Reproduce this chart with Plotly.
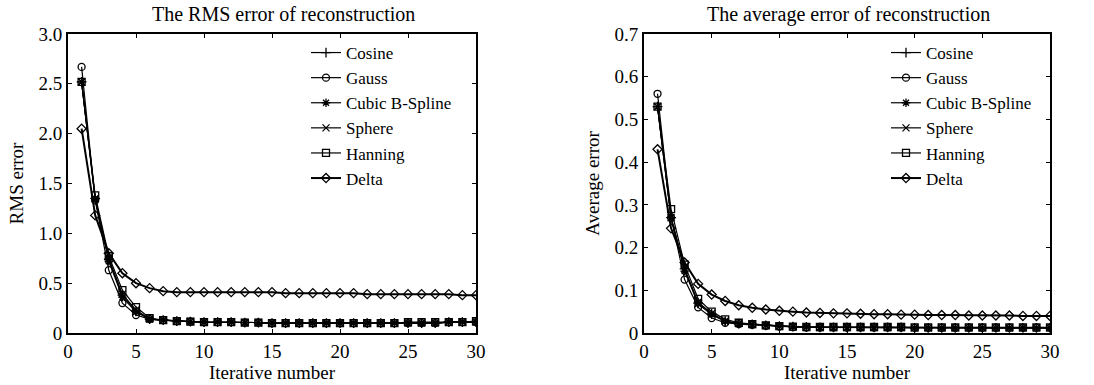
import plotly.graph_objects as go

iters = list(range(1, 31))
series_names = ["Cosine", "Gauss", "Cubic B-Spline", "Sphere", "Hanning", "Delta"]
symbols = ["cross-thin-open", "circle-open", "asterisk-open", "x-thin-open", "square-open", "diamond-open"]

rms_cosine = [2.52, 1.35, 0.74, 0.38, 0.22, 0.14, 0.13, 0.12, 0.115, 0.11, 0.11, 0.11, 0.105, 0.105, 0.1, 0.1, 0.1, 0.1, 0.1, 0.1, 0.1, 0.1, 0.1, 0.1, 0.1, 0.1, 0.1, 0.11, 0.11, 0.11]
rms_gauss = [2.67, 1.33, 0.63, 0.30, 0.18, 0.14, 0.13, 0.12, 0.115, 0.11, 0.11, 0.11, 0.105, 0.105, 0.1, 0.1, 0.1, 0.1, 0.1, 0.1, 0.1, 0.1, 0.1, 0.1, 0.1, 0.1, 0.1, 0.11, 0.11, 0.11]
rms_cubic = [2.52, 1.34, 0.72, 0.36, 0.21, 0.14, 0.13, 0.12, 0.115, 0.11, 0.11, 0.11, 0.105, 0.105, 0.1, 0.1, 0.1, 0.1, 0.1, 0.1, 0.1, 0.1, 0.1, 0.1, 0.1, 0.1, 0.1, 0.11, 0.11, 0.11]
rms_sphere = [2.52, 1.35, 0.74, 0.39, 0.23, 0.14, 0.13, 0.12, 0.115, 0.11, 0.11, 0.11, 0.105, 0.105, 0.1, 0.1, 0.1, 0.1, 0.1, 0.1, 0.1, 0.1, 0.1, 0.1, 0.1, 0.1, 0.1, 0.11, 0.11, 0.11]
rms_hanning = [2.52, 1.38, 0.77, 0.43, 0.26, 0.15, 0.13, 0.12, 0.115, 0.11, 0.11, 0.11, 0.105, 0.105, 0.1, 0.1, 0.1, 0.1, 0.1, 0.1, 0.1, 0.1, 0.1, 0.1, 0.11, 0.11, 0.11, 0.11, 0.11, 0.12]
rms_delta = [2.05, 1.18, 0.80, 0.60, 0.50, 0.45, 0.42, 0.41, 0.41, 0.41, 0.41, 0.41, 0.41, 0.41, 0.41, 0.40, 0.40, 0.40, 0.40, 0.40, 0.40, 0.39, 0.39, 0.39, 0.39, 0.39, 0.39, 0.39, 0.38, 0.38]

avg_cosine = [0.53, 0.27, 0.15, 0.07, 0.045, 0.028, 0.022, 0.02, 0.018, 0.016, 0.015, 0.014, 0.013, 0.013, 0.013, 0.013, 0.013, 0.013, 0.013, 0.012, 0.012, 0.012, 0.012, 0.012, 0.012, 0.012, 0.012, 0.012, 0.012, 0.012]
avg_gauss = [0.56, 0.27, 0.125, 0.06, 0.035, 0.024, 0.021, 0.019, 0.017, 0.015, 0.014, 0.013, 0.013, 0.013, 0.013, 0.013, 0.013, 0.013, 0.013, 0.012, 0.012, 0.012, 0.012, 0.012, 0.012, 0.012, 0.012, 0.012, 0.012, 0.012]
avg_cubic = [0.53, 0.27, 0.145, 0.068, 0.043, 0.027, 0.022, 0.02, 0.018, 0.016, 0.015, 0.014, 0.013, 0.013, 0.013, 0.013, 0.013, 0.013, 0.013, 0.012, 0.012, 0.012, 0.012, 0.012, 0.012, 0.012, 0.012, 0.012, 0.012, 0.012]
avg_sphere = [0.53, 0.27, 0.15, 0.072, 0.046, 0.028, 0.022, 0.02, 0.018, 0.016, 0.015, 0.014, 0.013, 0.013, 0.013, 0.013, 0.013, 0.013, 0.013, 0.012, 0.012, 0.012, 0.012, 0.012, 0.012, 0.012, 0.012, 0.012, 0.012, 0.012]
avg_hanning = [0.53, 0.29, 0.16, 0.08, 0.05, 0.032, 0.024, 0.021, 0.018, 0.016, 0.015, 0.014, 0.014, 0.014, 0.014, 0.014, 0.014, 0.014, 0.014, 0.013, 0.013, 0.013, 0.013, 0.013, 0.013, 0.013, 0.013, 0.013, 0.013, 0.013]
avg_delta = [0.43, 0.245, 0.165, 0.115, 0.09, 0.075, 0.065, 0.059, 0.055, 0.052, 0.05, 0.048, 0.047, 0.046, 0.046, 0.045, 0.044, 0.044, 0.043, 0.043, 0.042, 0.042, 0.042, 0.041, 0.041, 0.041, 0.041, 0.04, 0.04, 0.04]

rms_series = [rms_cosine, rms_gauss, rms_cubic, rms_sphere, rms_hanning, rms_delta]
avg_series = [avg_cosine, avg_gauss, avg_cubic, avg_sphere, avg_hanning, avg_delta]

rms_ticks = [0, 0.5, 1.0, 1.5, 2.0, 2.5, 3.0]
rms_ticklabels = ["0", "0.5", "1.0", "1.5", "2.0", "2.5", "3.0"]
avg_ticks = [0, 0.1, 0.2, 0.3, 0.4, 0.5, 0.6, 0.7]
avg_ticklabels = ["0", "0.1", "0.2", "0.3", "0.4", "0.5", "0.6", "0.7"]
x_ticks = [0, 5, 10, 15, 20, 25, 30]

FONT = "Liberation Serif"
fig = go.Figure()

for i, name in enumerate(series_names):
    lw = 2 if name == "Delta" else 1.2
    fig.add_trace(go.Scatter(x=iters, y=rms_series[i], name=name, mode="lines+markers",
                             line=dict(color="black", width=lw),
                             marker=dict(symbol=symbols[i], size=7, color="black", line=dict(width=1.3, color="black")),
                             xaxis="x", yaxis="y", legend="legend"))
for i, name in enumerate(series_names):
    lw = 2 if name == "Delta" else 1.2
    fig.add_trace(go.Scatter(x=iters, y=avg_series[i], name=name, mode="lines+markers",
                             line=dict(color="black", width=lw),
                             marker=dict(symbol=symbols[i], size=7, color="black", line=dict(width=1.3, color="black")),
                             xaxis="x2", yaxis="y2", legend="legend2"))

axis_common = dict(showgrid=False, zeroline=False, showline=True, linecolor="black", linewidth=1.8,
                   mirror="ticks", ticks="inside", ticklen=4, tickcolor="black", automargin=False,
                   tickfont=dict(family=FONT, size=19, color="black"))
title_font = dict(family=FONT, size=19, color="black")

ydom = [52 / 385, 351 / 385]
fig.update_layout(
    width=1094, height=385, margin=dict(l=0, r=0, t=0, b=0),
    paper_bgcolor="white", plot_bgcolor="white",
    font=dict(family=FONT, color="black"),
    xaxis=dict(domain=[68 / 1094, 476 / 1094], range=[0, 30], tickvals=x_ticks, anchor="y",
               title=dict(text="Iterative number", font=title_font, standoff=0), **axis_common),
    yaxis=dict(domain=ydom, range=[0, 3.0], tickvals=rms_ticks, ticktext=rms_ticklabels, anchor="x",
               title=dict(text="RMS error", font=title_font, standoff=10), **axis_common),
    xaxis2=dict(domain=[644 / 1094, 1050 / 1094], range=[0, 30], tickvals=x_ticks, anchor="y2",
                title=dict(text="Iterative number", font=title_font, standoff=0), **axis_common),
    yaxis2=dict(domain=ydom, range=[0, 0.7], tickvals=avg_ticks, ticktext=avg_ticklabels, anchor="x2",
                title=dict(text="Average error", font=title_font, standoff=10), **axis_common),
    legend=dict(x=306 / 1094, y=1 - 35 / 385, xanchor="left", yanchor="top", bgcolor="rgba(0,0,0,0)",
                font=dict(family=FONT, size=17, color="black"), tracegroupgap=0, itemwidth=30),
    legend2=dict(x=886 / 1094, y=1 - 35 / 385, xanchor="left", yanchor="top", bgcolor="rgba(0,0,0,0)",
                 font=dict(family=FONT, size=17, color="black"), tracegroupgap=0, itemwidth=30),
    annotations=[
        dict(text="The RMS error of reconstruction", x=283 / 1094, y=1 - 14 / 385, xref="paper", yref="paper",
             showarrow=False, font=dict(family=FONT, size=20, color="black"), xanchor="center", yanchor="middle"),
        dict(text="The average error of reconstruction", x=848 / 1094, y=1 - 14 / 385, xref="paper", yref="paper",
             showarrow=False, font=dict(family=FONT, size=20, color="black"), xanchor="center", yanchor="middle"),
    ],
)

fig.write_html("out.html")
